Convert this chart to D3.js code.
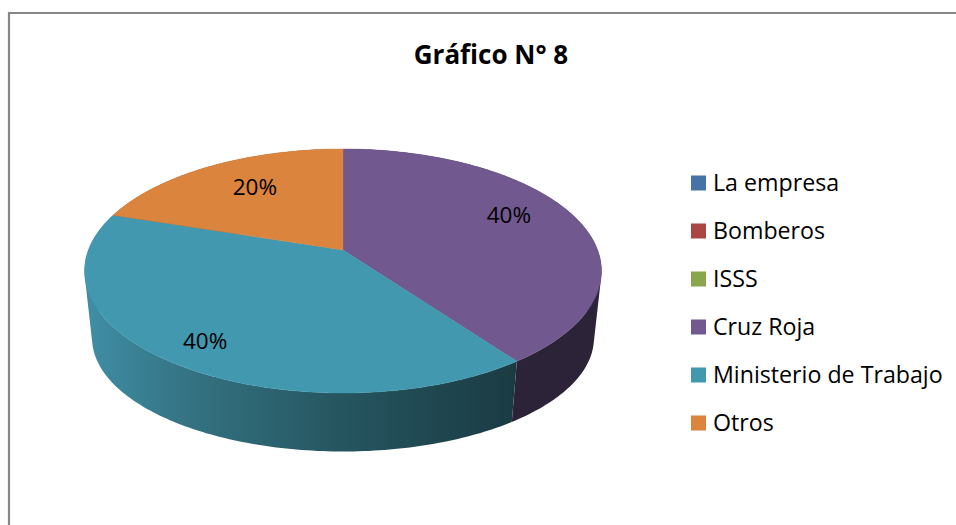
<!DOCTYPE html>
<html lang="es">
<head>
<meta charset="utf-8">
<style>
html,body{margin:0;padding:0;background:#fff;overflow:hidden}
svg{display:block}
text{font-family:"Open Sans","Noto Sans",sans-serif;fill:#000}
</style>
<script src="https://cdn.jsdelivr.net/npm/d3@7"></script>
</head>
<body>
<svg id="chart" width="956" height="525"></svg>
<script>
const title = "Gráfico N° 8";
const categories = ["La empresa","Bomberos","ISSS","Cruz Roja","Ministerio de Trabajo","Otros"];
const values = [0,0,0,40,40,20];
const colors = ["#4572a7","#aa4643","#89a54e","#71588f","#4198af","#db843d"];
const sideStops = [90,200,343,515];
const sideRanges = {
  "Cruz Roja":["#2d2338","#2d2338","#2d2338","#2d2338"],
  "Ministerio de Trabajo":["#3f8da4","#33707f","#25555f","#1a3b44"],
  "Otros":["#8a5226","#8a5226","#8a5226","#8a5226"]
};

const W=956,H=525;
const svg=d3.select("#chart");
const defs=svg.append("defs");

// frame (top and left rule only)
svg.append("path").attr("d",`M9,${H}V13H${W}`).attr("fill","none").attr("stroke","#868686").attr("stroke-width",2.2);

svg.append("text").attr("x",491).attr("y",64).attr("text-anchor","middle")
  .attr("font-size",26).attr("font-weight",700).text(title);

// perspective projection of a unit disc onto the page
const P={cx:343,apex:250,R:254.6,b:75.4,c:-0.172};
function topFace(theta,r=1){
  const u=Math.sin(theta)*r,v=-Math.cos(theta)*r,w=1+P.c*v;
  return [P.cx+P.R*u/w,(P.apex+P.b*v)/w];
}
const bx=0.971,by=0.93,by0=318.5;
function bottomFace(theta){
  const [x,y]=topFace(theta);
  return [P.cx+(x-P.cx)*bx,by0+by*(y-P.apex)];
}

const pie=d3.pie().sort(null).value(d=>d.value);
const rows=categories.map((name,i)=>({name,value:values[i],color:colors[i]}));
const arcs=pie(rows).filter(d=>d.value>0);

const line=d3.line();
const STEP=Math.PI/180;

function samples(a,b){
  const n=Math.max(2,Math.ceil((b-a)/STEP));
  return d3.range(n+1).map(i=>a+(b-a)*i/n);
}

// side wall: all quads of a slice in one path, same winding, horizontal gradient
const sides=svg.append("g");
arcs.forEach((d,i)=>{
  const id="side"+i;
  const g=defs.append("linearGradient").attr("id",id).attr("gradientUnits","userSpaceOnUse")
    .attr("x1",sideStops[0]).attr("x2",sideStops[sideStops.length-1]).attr("y1",0).attr("y2",0);
  const off=d3.scaleLinear().domain(d3.extent(sideStops)).range([0,1]);
  sideStops.forEach((s,j)=>g.append("stop").attr("offset",off(s)).attr("stop-color",sideRanges[d.data.name][j]));
  const t=samples(d.startAngle,d.endAngle);
  const dPath=d3.pairs(t).map(([a,b])=>{
    const pts=[topFace(a),topFace(b),bottomFace(b),bottomFace(a)];
    if(d3.polygonArea(pts)<0) pts.reverse();
    return line(pts)+"Z";
  }).join("");
  sides.append("path").attr("d",dPath).attr("fill",`url(#${id})`);
});

// top face
const faces=svg.append("g");
arcs.forEach(d=>{
  const pts=samples(d.startAngle,d.endAngle).map(a=>topFace(a));
  faces.append("path").attr("d",`M${P.cx},${P.apex}L`+line(pts).slice(1)+"Z")
    .attr("fill",d.data.color).attr("stroke",d.data.color).attr("stroke-width",0.4);
});

// percentage labels: radial fraction and angular nudge for each slice
const labelPlacement={"Cruz Roja":[0.754,-6.4],"Ministerio de Trabajo":[0.83,-0.8],"Otros":[0.70,3]};
const total=d3.sum(values);
arcs.forEach(d=>{
  const [r,nudge]=labelPlacement[d.data.name];
  const mid=(d.startAngle+d.endAngle)/2+nudge*Math.PI/180;
  const [x,y]=topFace(mid,r);
  svg.append("text").attr("x",x).attr("y",y).attr("dy","0.35em").attr("text-anchor","middle")
    .attr("font-size",22.5).text(d3.format(".0%")(d.value/total));
});

// legend
const yLegend=d3.scalePoint().domain(categories).range([183,423]);
const lg=svg.append("g").selectAll("g").data(rows).join("g")
  .attr("transform",d=>`translate(691,${yLegend(d.name)})`);
lg.append("rect").attr("x",0).attr("y",-7.5).attr("width",15).attr("height",15).attr("fill",d=>d.color);
lg.append("text").attr("x",22).attr("dy","0.35em").attr("font-size",23.2).text(d=>d.name);
</script>
</body>
</html>
